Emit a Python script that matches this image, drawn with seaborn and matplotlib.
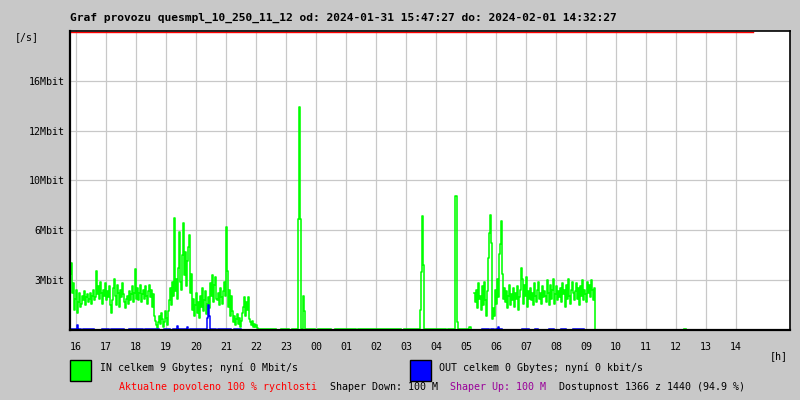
import numpy as np
import pandas as pd
import seaborn as sns
import matplotlib.pyplot as plt
from matplotlib.patches import Rectangle

TITLE = 'Graf provozu quesmpl_10_250_11_12 od: 2024-01-31 15:47:27 do: 2024-02-01 14:32:27'
T_FROM = '15:47:27'
T_TO = '14:32:27'

# IN traffic [Mbit/s], one sample per 2 minutes
IN_A_START = '15:48'
IN_A = [3.6, 4.3, 2.4, 3.0,
        1.3, 2.0, 2.6, 1.1, 1.8, 2.4, 1.5,
        1.7, 2.2, 1.9, 2.5, 1.6, 2.1, 2.3, 1.8, 2.0, 2.4, 1.7, 2.2, 2.6, 1.9, 2.1,
        3.8, 2.3,
        2.8, 2.0, 3.1, 2.4, 1.7, 2.6, 2.2, 3.0, 1.9, 2.5, 2.1, 2.8, 1.6, 1.1,
        1.9, 2.7, 3.3, 2.2, 1.6, 2.9, 2.4, 1.5, 2.6, 2.1, 3.0, 2.3, 1.8, 1.4, 2.0,
        2.2, 1.7, 2.5, 1.9, 2.3, 2.8, 1.8, 2.4, 3.9, 2.0,
        2.7, 1.9, 2.4, 2.9, 1.8, 2.3, 2.6, 2.0, 2.8, 2.2, 1.7, 2.5, 2.9, 2.1, 2.6,
        1.5, 2.3, 0.9, 0.6, 0.3,
        0.1, 0.5, 0.9, 0.4, 1.1, 0.7, 0.2, 0.5, 1.2, 0.8, 0.3,
        1.2, 1.9, 2.7, 1.6, 3.1, 2.2,
        7.2,
        2.5, 3.3, 2.0, 4.0, 6.3, 3.1, 2.6, 4.8, 6.9, 3.5, 5.0, 2.8, 4.4, 5.3, 6.1, 2.4, 3.6,
        1.3, 2.0, 0.9, 1.6, 2.4, 1.1, 1.8, 0.8, 2.2, 1.5, 2.7, 1.2, 1.9, 2.5, 1.0, 1.7, 2.1, 1.4,
        3.0, 2.2, 3.5, 1.8, 2.9, 3.4, 2.0,
        1.9, 2.4, 1.6, 2.7, 2.1, 1.7, 2.5, 3.1, 2.2,
        6.6,
        3.8, 1.5, 2.6, 0.9, 2.2, 1.2,
        0.5, 0.9, 0.3, 0.7, 1.0, 0.4, 0.8, 0.2, 0.6, 1.1,
        1.5, 2.1, 0.9, 1.8, 1.3, 2.1, 0.7,
        0.5, 0.3, 0.6, 0.2, 0.4, 0.2, 0.3, 0.1]

IN_B_START = '05:16'
IN_B = [2.4, 1.8, 2.6, 1.4, 3.0, 2.0,
        2.2, 1.3, 2.8, 1.6, 3.1, 1.9, 0.9, 2.5, 4.6, 6.2,
        7.4, 5.6, 0.7, 1.4, 0.9,
        2.6, 1.7, 3.3, 2.1, 4.9,
        5.5, 7.0, 3.6, 2.0, 2.7,
        1.8, 2.5, 1.4, 2.2, 2.9, 1.6, 2.3, 1.9, 2.7, 1.5, 2.4, 2.0, 2.8, 1.3, 2.1,
        2.6, 4.0, 3.3, 1.7, 2.9, 2.2, 3.4, 1.5, 2.5, 2.0,
        2.7, 1.9, 2.4, 1.6, 3.0, 2.2, 1.8, 2.6, 3.1, 2.0, 2.4, 1.7, 2.8, 2.1, 2.5,
        2.2, 1.8, 3.2, 2.4, 1.6, 2.9, 2.0, 2.6, 3.3, 1.7, 2.3, 2.8, 1.9, 2.5, 2.1,
        2.7, 1.8, 3.0, 2.3, 2.6, 1.5, 2.9, 2.0, 3.3, 2.2, 1.7, 2.6, 3.1, 2.4, 1.9,
        2.5, 3.0, 2.0, 2.7, 1.6, 2.8, 2.2, 3.2, 1.9, 2.6, 2.3, 1.8, 3.1, 2.4, 2.9,
        2.1, 3.2, 2.6, 1.9, 2.7, 0.0]

# quiet periods (near zero traffic)
IN_IDLE = [('22:04', '22:40'), ('22:50', '23:06'), ('23:12', '23:58'),
           ('00:04', '00:30'), ('00:38', '01:20'), ('01:24', '02:50'),
           ('02:56', '04:20'), ('04:24', '05:10'), ('12:16', '12:20')]
IN_IDLE_LEVEL = 0.08
IN_SPIKES = [('23:24', 7.1), ('23:26', 14.3), ('23:28', 7.1),
             ('23:34', 2.2), ('23:36', 1.2),
             ('03:28', 1.3), ('03:30', 3.7), ('03:32', 7.3), ('03:34', 4.2),
             ('04:38', 8.6), ('04:40', 8.6), ('04:42', 0.5),
             ('05:06', 0.2), ('05:08', 0.2)]

# OUT traffic [Mbit/s]
OUT_BASE = [('15:48', '16:10'), ('16:14', '16:36'), ('16:52', '17:06'), ('17:10', '17:36'),
            ('17:46', '18:14'), ('18:18', '18:46'), ('18:56', '19:08'), ('19:14', '19:44'),
            ('19:48', '20:40'), ('20:44', '21:10'), ('21:16', '21:30'),
            ('05:32', '05:46'), ('05:50', '05:56'), ('06:00', '06:12'), ('06:52', '07:06'),
            ('07:18', '07:24'), ('07:46', '07:56'), ('08:10', '08:20'), ('08:34', '08:56')]
OUT_LEVEL = 0.09
OUT_SPIKES = [('16:02', 0.3), ('19:22', 0.25), ('19:42', 0.2),
              ('20:22', 0.8), ('20:24', 1.6), ('20:26', 0.9), ('06:04', 0.2)]

LIMIT_MBIT = 100
Y_TICKS = [3.2, 6.4, 9.6, 12.8, 16.0]
Y_LABELS = ['3Mbit', '6Mbit', '10Mbit', '12Mbit', '16Mbit']
Y_TOP = 19.2
X_HOURS = list(range(16, 39))

BG = '#c8c8c8'
GREEN = '#00ff00'
BLUE = '#0000ff'
MONO = 'DejaVu Sans Mono'


def to_min(t):
    parts = [int(p) for p in t.split(':')]
    m = parts[0] * 60 + parts[1] + (parts[2] / 60 if len(parts) > 2 else 0)
    return m + 1440 if parts[0] < 15 else m


grid = np.arange(to_min('15:48'), to_min('14:34'), 2)


def build(runs, periods, level, spikes):
    s = pd.Series(np.nan, index=grid)
    for a, b in periods:
        s.loc[to_min(a):to_min(b)] = level
    for start, vals in runs:
        t0 = to_min(start)
        s.loc[t0:t0 + 2 * (len(vals) - 1)] = vals
    for t, v in spikes:
        s.loc[to_min(t)] = v
    df = pd.DataFrame({'t': s.index / 60.0, 'v': s.values})
    df['run'] = df['v'].isna().cumsum()
    return df.dropna()


df_in = build([(IN_A_START, IN_A), (IN_B_START, IN_B)], IN_IDLE, IN_IDLE_LEVEL, IN_SPIKES)
df_out = build([], OUT_BASE, OUT_LEVEL, OUT_SPIKES)

plt.rcParams['font.family'] = MONO
fig = plt.figure(figsize=(8, 4), dpi=100, facecolor=BG)
ax = fig.add_axes([70 / 800, 70 / 400, 720 / 800, 299 / 400])
ax.set_facecolor('white')

h_from = to_min(T_FROM) / 60
h_to = to_min(T_TO) / 60

sns.lineplot(data=df_in, x='t', y='v', units='run', estimator=None, color=GREEN,
             lw=1.15, drawstyle='steps-post', ax=ax, legend=False)
sns.lineplot(data=df_out, x='t', y='v', units='run', estimator=None, color=BLUE,
             lw=1.1, drawstyle='steps-post', ax=ax, legend=False)
lim = pd.DataFrame({'t': [h_from, h_to], 'v': [min(LIMIT_MBIT, Y_TOP - 0.07)] * 2})
sns.lineplot(data=lim, x='t', y='v', color='#ff0000', lw=1.0, ax=ax, legend=False)

ax.set_xlim(h_from, h_from + 24)
ax.set_ylim(0, Y_TOP)
ax.set_xticks(X_HOURS)
ax.set_xticklabels([f'{h % 24:02d}' for h in X_HOURS])
ax.set_yticks(Y_TICKS)
ax.set_yticklabels(Y_LABELS)
ax.tick_params(length=0, labelsize=7.2, colors='black')
ax.tick_params(axis='x', pad=9)
ax.tick_params(axis='y', pad=4)
ax.grid(True, color='#c8c8c8', lw=0.9)
ax.set_axisbelow(True)
ax.set_xlabel('')
ax.set_ylabel('')
for sp in ax.spines.values():
    sp.set_color('black')
    sp.set_linewidth(1.2)
ax.spines['bottom'].set_linewidth(1.6)
ax.spines['left'].set_linewidth(1.6)


def px(x, y):
    return x / 800, 1 - y / 400


fig.text(*px(70, 18), TITLE, fontsize=8.1, fontweight='bold', va='center', ha='left')
fig.text(*px(15, 37), '[/s]', fontsize=7.2, va='center')
fig.text(*px(770, 356), '[h]', fontsize=7.2, va='center')

fig.add_artist(Rectangle(px(70, 381), 21 / 800, 21 / 400, transform=fig.transFigure,
                         facecolor=GREEN, edgecolor='black', lw=1))
fig.text(*px(100, 368), 'IN celkem 9 Gbytes; nyní 0 Mbit/s', fontsize=7.2, va='center')
fig.add_artist(Rectangle(px(410, 381), 21 / 800, 21 / 400, transform=fig.transFigure,
                         facecolor=BLUE, edgecolor='black', lw=1))
fig.text(*px(439, 368), 'OUT celkem 0 Gbytes; nyní 0 kbit/s', fontsize=7.2, va='center')

fig.text(*px(119, 387), 'Aktualne povoleno 100 % rychlosti', fontsize=7.2, va='center', color='#ff0000')
fig.text(*px(330, 387), 'Shaper Down: 100 M', fontsize=7.2, va='center')
fig.text(*px(450, 387), 'Shaper Up: 100 M', fontsize=7.2, va='center', color='#990099')
fig.text(*px(559, 387), 'Dostupnost 1366 z 1440 (94.9 %)', fontsize=7.2, va='center')

fig.savefig('out.png', dpi=100, facecolor=BG)
